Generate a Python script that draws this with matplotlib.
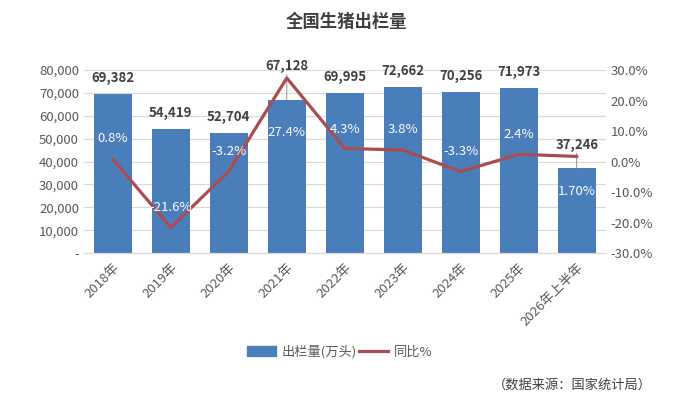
import numpy as np
import matplotlib.pyplot as plt
from matplotlib.patches import Patch
from matplotlib.lines import Line2D
from matplotlib.ticker import FuncFormatter

plt.rcParams['font.family'] = ['Noto Sans CJK SC', 'DejaVu Sans']

# 数据
years = ['2018年', '2019年', '2020年', '2021年', '2022年', '2023年', '2024年', '2025年', '2026年上半年']
output = [69382, 54419, 52704, 67128, 69995, 72662, 70256, 71973, 37246]
yoy = [0.8, -21.6, -3.2, 27.4, 4.3, 3.8, -3.3, 2.4, 1.70]
yoy_labels = ['0.8%', '-21.6%', '-3.2%', '27.4%', '4.3%', '3.8%', '-3.3%', '2.4%', '1.70%']

# 标签偏移(点)
bar_off = [11.5, 11.5, 11.5, 24, 11.5, 11.5, 11.5, 11.5, 16.5]
pct_off = [15, 14.5, 14.5, -39, 14, 15, 14.5, 14.5, -25]

bar_color = '#4A7EBB'
line_color = '#A94E50'
text_color = '#595959'

fig = plt.figure(figsize=(6.93, 4.05), dpi=100)
ax = fig.add_axes([0.121, 0.375, 0.753, 0.452])
ax2 = ax.twinx()

x = np.arange(len(years))
ax.bar(x, output, width=0.66, color=bar_color, zorder=2)
ax.set_xlim(-0.5, len(years) - 0.5)
ax.set_ylim(0, 80000)
ax.set_yticks(np.arange(0, 80001, 10000))
ax.yaxis.set_major_formatter(FuncFormatter(lambda v, p: '-' if v == 0 else f'{int(v):,}'))
ax.grid(axis='y', color='#D9D9D9', linewidth=0.8, zorder=0)
ax.set_axisbelow(True)

ax.set_xticks(x)
ax.set_xticklabels(years, rotation=45, ha='right', rotation_mode='anchor')
ax.tick_params(axis='both', length=0, colors=text_color, labelsize=9.5)
ax.tick_params(axis='x', pad=6)

ax2.plot(x, yoy, color=line_color, linewidth=2.3, zorder=3)
ax2.set_ylim(-30, 30)
ax2.set_yticks(np.arange(-30, 31, 10))
ax2.yaxis.set_major_formatter(FuncFormatter(lambda v, p: f'{v:.1f}%'))
ax2.tick_params(axis='y', length=0, colors=text_color, labelsize=9.5)

for a in (ax, ax2):
    for side in ('top', 'left', 'right'):
        a.spines[side].set_visible(False)
    a.spines['bottom'].set_color('#D9D9D9')

# 柱标签
for i, v in enumerate(output):
    ax.annotate(f'{v:,}', (x[i], v), xytext=(0, bar_off[i]), textcoords='offset points',
                ha='center', va='center', fontsize=9.5, fontweight='bold', color='#404040', zorder=5)
    if bar_off[i] > 12:
        ax.annotate('', (x[i], v), xytext=(0, bar_off[i] - 6), textcoords='offset points',
                    arrowprops=dict(arrowstyle='-', color='#7F7F7F', lw=0.6, shrinkA=0, shrinkB=0))

# 同比标签
for i, v in enumerate(yoy):
    ax2.annotate(yoy_labels[i], (x[i], v), xytext=(0, pct_off[i]), textcoords='offset points',
                 ha='center', va='center', fontsize=9.5, color='white', zorder=6)

fig.text(0.5, 0.945, '全国生猪出栏量', ha='center', va='center', fontsize=12.5,
         fontweight='bold', color='#404040')

handles = [Patch(color=bar_color), Line2D([0], [0], color=line_color, linewidth=2.3)]
fig.legend(handles, ['出栏量(万头)', '同比%'], loc='center', bbox_to_anchor=(0.49, 0.131),
           ncol=2, frameon=False, fontsize=9.5, labelcolor=text_color,
           handlelength=2.2, handletextpad=0.4, columnspacing=0.2)

fig.text(0.94, 0.05, '（数据来源：国家统计局）', ha='right', va='center', fontsize=9.5, color='#404040')

fig.savefig('out.png', dpi=100)
